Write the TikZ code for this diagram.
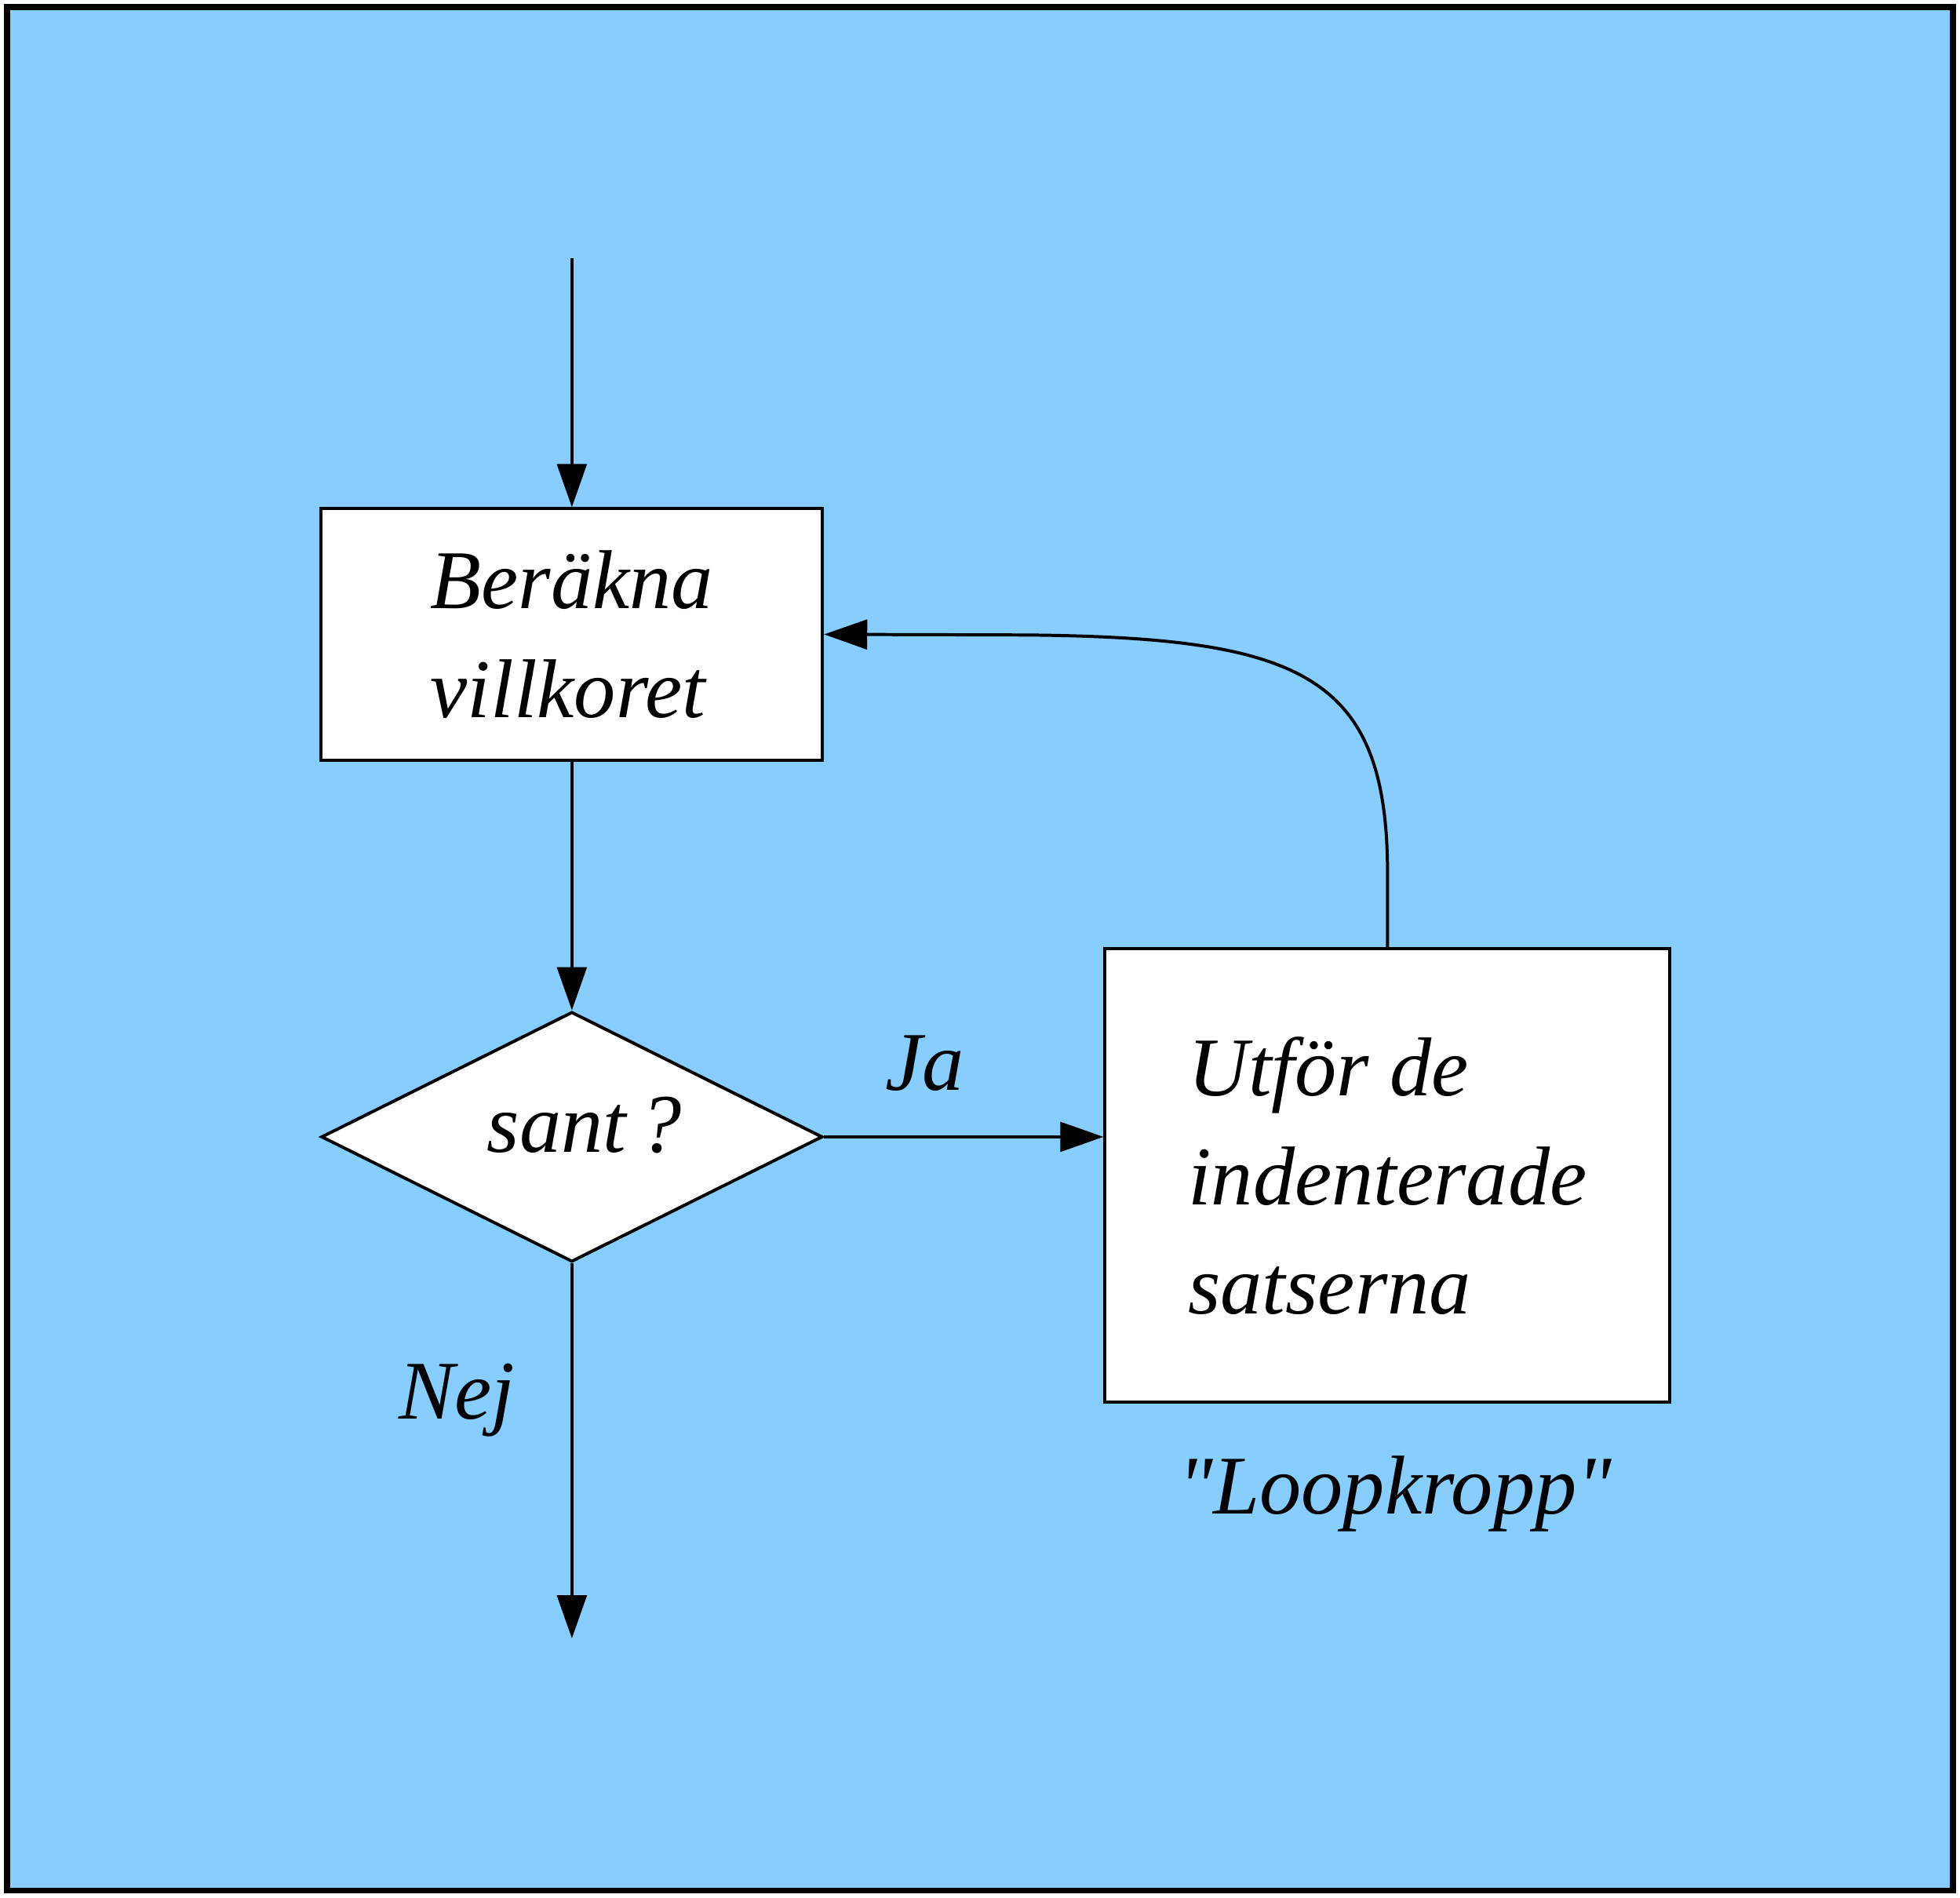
\documentclass[tikz,border=0pt]{standalone}
\usepackage{fontspec}
\setmainfont{Liberation Serif}[Ligatures=TeXOff]
\usetikzlibrary{arrows.meta,shapes.geometric}
\definecolor{himmel}{RGB}{135,206,255}

\tikzset{
  box/.style={draw, fill=white, line width=0.71pt, inner sep=0pt, align=left},
  decision/.style={diamond, aspect=2, draw, fill=white, line width=0.71pt, inner sep=0pt,
    minimum width=4.01cm, minimum height=2cm},
  flow/.style={line width=0.71pt, -{Triangle[length=3.45mm, width=2.36mm]}}
}

\begin{document}
\begin{tikzpicture}[font=\itshape\fontsize{19}{24.8}\selectfont]
  \useasboundingbox (0,0) rectangle (15.68,15.18);
  % bakgrund
  \draw [line width=1.37pt, fill=himmel] (0.056,0.056) rectangle (15.624,15.124);

  % rutor
  \node [box, minimum width=4.01cm, minimum height=2.01cm] (calc) at (4.575,10.105)
    {Beräkna\\villkoret};
  \node [decision, text depth=0.2cm] (test) at (4.575,6.085) {\hspace*{2mm}sant\,?};
  \node [box, minimum width=4.52cm, minimum height=3.63cm] (body) at (11.10,5.775)
    {Utför de\\indenterade\\satserna};

  \coordinate (start) at (4.575,13.115);
  \coordinate (end) at (4.575,2.073);
  \coordinate (bend) at (8.2,10.1);

  % pilar
  \draw [flow] (start) -- (calc.north);
  \draw [flow] (calc.south) -- (test.north);
  \draw [flow] (test.east) -- (test.east -| body.west);
  \draw [flow] (test.south) -- (end);
  \draw [flow] (body.north) -- ++(0,0.59) .. controls +(0,1.6) and +(2.2,-0.02) .. (bend)
    -- (calc.east);

  % etiketter
  \node [anchor=base] (ja) at (7.40,6.46) {Ja};
  \node [anchor=base] (nej) at (3.656,3.83) {Nej};
  \node [anchor=base] (kropp) at (11.16,3.07) {"Loopkropp"};
\end{tikzpicture}
\end{document}
